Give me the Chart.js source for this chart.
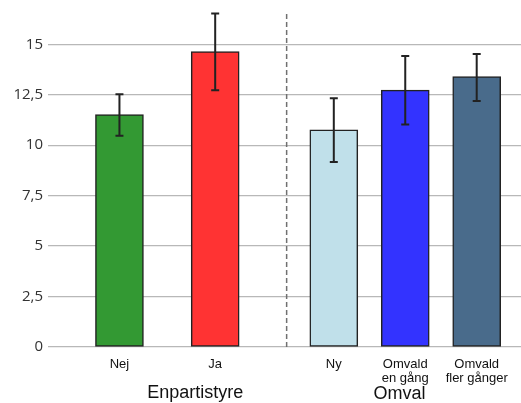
<!DOCTYPE html>
<html>
<head>
<meta charset="utf-8">
<script src="https://cdn.jsdelivr.net/npm/chart.js@4"></script>
<style>
  html, body { margin: 0; padding: 0; background: #fff; }
  #wrap { width: 521px; height: 403px; }
</style>
</head>
<body>
<div id="wrap"><canvas id="chart" width="521" height="403"></canvas></div>
<script>
// categories and values
const categories = [['Nej'], ['Ja'], ['Ny'], ['Omvald', 'en gång'], ['Omvald', 'fler gånger']];
const means = [11.52, 14.64, 10.76, 12.73, 13.40];
const errLow = [10.47, 12.72, 9.17, 11.03, 12.19];
const errHigh = [12.52, 16.52, 12.32, 14.42, 14.52];
const groupLabels = ['Enpartistyre', 'Omval'];
const yTicks = [0, 2.5, 5, 7.5, 10, 12.5, 15];

// layout: where each bar sits on the linear x axis
const slotPos = [0, 1.34, 3, 4, 5];
const dividerPos = 2.34;
const groupPos = [1.06, 3.92];
const groupBase = [397.5, 399];

const barColors = ['#339933', '#ff3333', '#c0e0ea', '#3333ff', '#496b8b'];

const extras = {
    id: 'extras',
    afterDatasetsDraw: (chart) => {
        const ctx = chart.ctx;
        const x = chart.scales.x;
        const y = chart.scales.y;
        ctx.save();

        // dashed divider
        ctx.strokeStyle = '#707070';
        ctx.lineWidth = 1.5;
        ctx.setLineDash([5, 3]);
        ctx.beginPath();
        ctx.moveTo(x.getPixelForValue(dividerPos), chart.chartArea.top);
        ctx.lineTo(x.getPixelForValue(dividerPos), y.getPixelForValue(0));
        ctx.stroke();
        ctx.setLineDash([]);

        // error bars
        ctx.strokeStyle = '#222';
        ctx.lineWidth = 2;
        for (let i = 0; i < means.length; i++) {
            const px = x.getPixelForValue(slotPos[i]);
            const top = y.getPixelForValue(errHigh[i]);
            const bot = y.getPixelForValue(errLow[i]);
            ctx.beginPath();
            ctx.moveTo(px, top); ctx.lineTo(px, bot);
            ctx.moveTo(px - 4, top); ctx.lineTo(px + 4, top);
            ctx.moveTo(px - 4, bot); ctx.lineTo(px + 4, bot);
            ctx.stroke();
        }

        // group labels
        ctx.fillStyle = '#111';
        ctx.font = '18px "Liberation Sans", Arial, sans-serif';
        ctx.textAlign = 'center';
        ctx.textBaseline = 'alphabetic';
        for (let i = 0; i < groupLabels.length; i++) {
            ctx.fillText(groupLabels[i], x.getPixelForValue(groupPos[i]), groupBase[i]);
        }
        ctx.restore();
    }
};

const config = {
    type: 'bar',
    data: {
        datasets: [{
            data: means.map((v, i) => ({ x: slotPos[i], y: v })),
            backgroundColor: barColors,
            borderColor: '#222',
            borderWidth: 1.5,
            borderSkipped: false,
            barThickness: 48
        }]
    },
    options: {
        responsive: false,
        animation: false,
        layout: { padding: { top: 14, right: 0, left: 0, bottom: 0 } },
        plugins: {
            legend: { display: false },
            tooltip: { enabled: false }
        },
        scales: {
            x: {
                type: 'linear',
                offset: false,
                min: -1,
                max: 5.62,
                grid: { display: false },
                border: { display: false },
                afterBuildTicks: (scale) => {
                    scale.ticks = slotPos.map(v => ({ value: v }));
                },
                afterFit: (scale) => { scale.height = 56; },
                ticks: {
                    autoSkip: false,
                    maxRotation: 0,
                    padding: 3,
                    color: '#111',
                    font: { family: '"Liberation Sans", Arial, sans-serif', size: 13, lineHeight: 1.05 },
                    callback: (value, index) => categories[index]
                }
            },
            y: {
                min: 0,
                max: 16.5,
                grid: { color: '#b8b8b8', lineWidth: 1.2, drawTicks: false },
                border: { display: false },
                afterBuildTicks: (scale) => {
                    scale.ticks = yTicks.map(v => ({ value: v }));
                },
                afterFit: (scale) => { scale.width = 48; },
                ticks: {
                    padding: 5,
                    color: '#333',
                    font: { family: '"Open Sans", sans-serif', size: 15 },
                    callback: (value) => String(value).replace('.', ',')
                }
            }
        }
    },
    plugins: [extras]
};

new Chart(document.getElementById('chart'), config);
</script>
</body>
</html>
